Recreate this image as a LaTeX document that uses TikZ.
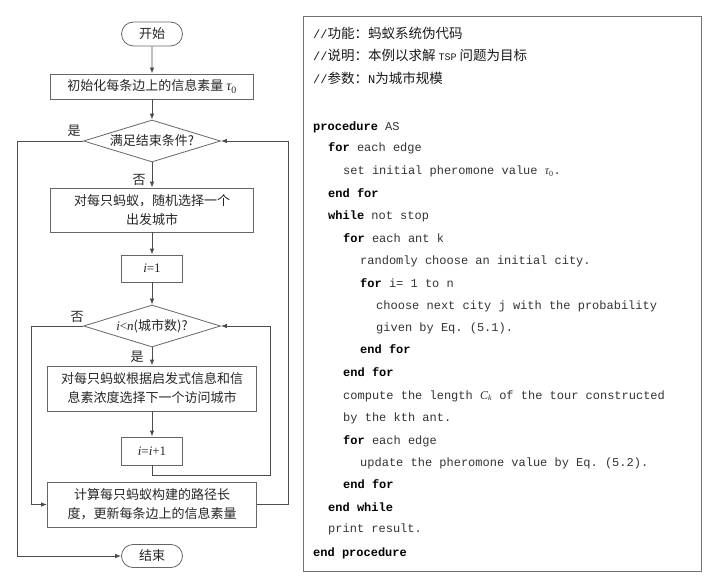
\documentclass[tikz,border=0pt]{standalone}
\usepackage{fontspec}
\setmonofont{Liberation Mono}
\newfontfamily\cjk{Noto Sans CJK SC}
\newfontfamily\srf{Liberation Serif}
\usetikzlibrary{shapes.geometric,shapes.misc,arrows.meta}
\tikzset{
  ln/.style={draw=black!70, line width=0.8pt},
  arr/.style={ln, -{Latex[length=6pt,width=4.5pt]}},
  fbox/.style={draw=black!60, line width=0.8pt, fill=white, align=center, inner sep=1pt,
    font=\cjk\fontsize{13}{19}\selectfont, text=black!85},
  term/.style={fbox, rounded rectangle, minimum width=63pt, minimum height=24pt},
  dia/.style={fbox, diamond, aspect=3.2, minimum width=137pt, minimum height=42pt, inner sep=0pt},
  lbl/.style={font=\cjk\fontsize{13}{15}\selectfont, text=black!85, inner sep=0pt},
  code/.style={anchor=base west, inner sep=0pt, font=\ttfamily\fontsize{12}{14}\selectfont, text=black!80},
  cmt/.style={code, font=\ttfamily\fontsize{12}{14}\selectfont, text=black!90},
}
\newcommand{\kw}[1]{\textbf{\color{black}#1}}
\newcommand{\cj}[1]{{\cjk\fontsize{13.5}{15}\selectfont #1}}
\newcommand{\iv}[1]{{\srf\itshape #1}}
\newcommand{\rv}[1]{{\srf #1}}
\newcommand{\tauz}{{\srf\itshape τ}\textsubscript{\srf 0}}
\begin{document}
\begin{tikzpicture}[x=1pt,y=-1pt]
\useasboundingbox (0,0) rectangle (720,588);
% flowchart
\node[term] (start) at (152,34) {开始};
\node[fbox, minimum width=203pt, minimum height=25pt] (init) at (152,86.5) {初始化每条边上的信息素量 {\fontsize{14}{16}\selectfont\tauz}};
\node[dia] (d1) at (152,141) {满足结束条件?};
\node[fbox, minimum width=203pt, minimum height=44pt] (b1) at (152,210) {对每只蚂蚁，随机选择一个\\出发城市};
\node[fbox, minimum width=61pt, minimum height=27pt] (i1) at (152,268.5) {\iv{i}\rv{=1}};
\node[dia] (d2) at (152,326) {\iv{i}\rv{<}\iv{n}(城市数)?};
\node[fbox, minimum width=209pt, minimum height=45pt] (b2) at (152,388.5) {对每只蚂蚁根据启发式信息和信\\息素浓度选择下一个访问城市};
\node[fbox, minimum width=61pt, minimum height=28pt] (i2) at (152,451) {\iv{i}\rv{=}\iv{i}\rv{+1}};
\node[fbox, minimum width=209pt, minimum height=45pt] (b3) at (152,504.5) {计算每只蚂蚁构建的路径长\\度，更新每条边上的信息素量};
\node[term, minimum height=23pt] (end) at (152,556) {结束};

\node[lbl] (ly1) at (74,131) {是};
\node[lbl] (ln1) at (139,180) {否};
\node[lbl] (ln2) at (77,317) {否};
\node[lbl] (ly2) at (137,357) {是};

\coordinate (L1) at (17,141);
\coordinate (L2) at (17,556);
\coordinate (R1) at (288,141);
\coordinate (R2) at (288,504.5);
\coordinate (L3) at (31,326);
\coordinate (L4) at (31,504.5);
\coordinate (M4) at (152,475);
\coordinate (R4) at (270,475);
\coordinate (R3) at (270,326);

\draw[arr] (start) -- (init);
\draw[arr] (init) -- (d1);
\draw[arr] (d1) -- (b1);
\draw[arr] (b1) -- (i1);
\draw[arr] (i1) -- (d2);
\draw[arr] (d2) -- (b2);
\draw[arr] (b2) -- (i2);
\draw[arr] (d1.west) -- (L1) -- (L2) -- (end.west);
\draw[arr] (b3.east) -- (R2) -- (R1) -- (d1.east);
\draw[arr] (d2.west) -- (L3) -- (L4) -- (b3.west);
\draw[arr] (i2.south) -- (M4) -- (R4) -- (R3) -- (d2.east);

% code box
\node[draw=black!55, line width=0.8pt, minimum width=398pt, minimum height=555pt, inner sep=0pt] (cbox) at (502,293.5) {};
\node[cmt] (c1) at (313,39) {//\cj{功能：蚂蚁系统伪代码}};
\node[cmt] (c2) at (313,61) {//\cj{说明：本例以求解 }{\fontsize{10}{12}\selectfont TSP}\cj{ 问题为目标}};
\node[cmt] (c3) at (313,84) {//\cj{参数：}N\cj{为城市规模}};
\node[code] (c4) at (313,131) {\kw{procedure} AS};
\node[code] (c5) at (328,152) {\kw{for} each edge};
\node[code] (c6) at (343,175) {set initial pheromone value \tauz.};
\node[code] (c7) at (328,197) {\kw{end for}};
\node[code] (c8) at (328,219) {\kw{while} not stop};
\node[code] (c9) at (343,242) {\kw{for} each ant k};
\node[code] (c10) at (360,264) {randomly choose an initial city.};
\node[code] (c11) at (360,287) {\kw{for} i= 1 to n};
\node[code] (c12) at (376,309) {choose next city j with the probability};
\node[code] (c13) at (376,331) {given by Eq. (5.1).};
\node[code] (c14) at (360,353) {\kw{end for}};
\node[code] (c15) at (343,376) {\kw{end for}};
\node[code] (c16) at (343,399) {compute the length \iv{C}\textsubscript{\iv{k}} of the tour constructed};
\node[code] (c17) at (343,421) {by the kth ant.};
\node[code] (c18) at (343,444) {\kw{for} each edge};
\node[code] (c19) at (360,466) {update the pheromone value by Eq. (5.2).};
\node[code] (c20) at (343,488) {\kw{end for}};
\node[code] (c21) at (328,511) {\kw{end while}};
\node[code] (c22) at (328,532) {print result.};
\node[code] (c23) at (313,556) {\kw{end procedure}};
\end{tikzpicture}
\end{document}
